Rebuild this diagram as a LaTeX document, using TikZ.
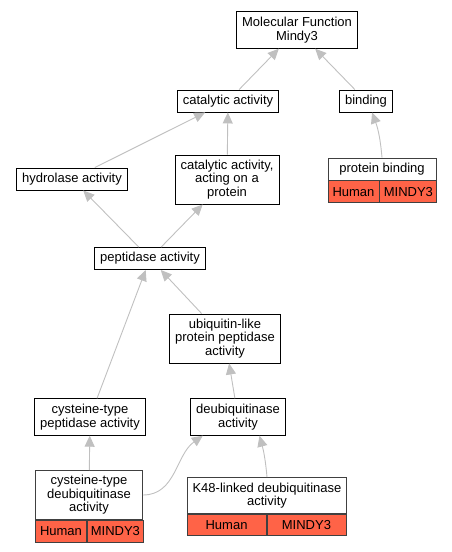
\documentclass[tikz,border=0pt]{standalone}
\usepackage{fontspec}
\setmainfont{Liberation Sans}
\usetikzlibrary{positioning, arrows.meta}

\definecolor{edgegrey}{RGB}{192,192,192}
\definecolor{hitred}{RGB}{255,99,71}

\begin{document}
\begin{tikzpicture}[x=1pt,y=-1pt,on grid,
   font=\fontsize{13}{13.4}\selectfont,
   term/.style={draw,line width=0.9pt,align=center,inner xsep=5.5pt,inner ysep=2pt,minimum height=22pt},
   head/.style={term,draw=black!75},
   cell/.style={draw=black!75,line width=0.9pt,fill=hitred,inner sep=0pt,minimum height=22pt,anchor=north west},
   isa/.style={color=edgegrey,line width=0.9pt,-{Triangle[length=11pt,width=10pt]}}]

   \useasboundingbox (0,0) rectangle (451,552);

   \node[term,minimum height=36.5pt] (mf) at (297,30) {Molecular Function\\Mindy3};
   \node[term] (cat) [below left=71pt and 69pt of mf] {catalytic activity};
   \node[term] (bind) [below right=71pt and 69pt of mf] {binding};
   \node[term] (hyd) [below left=78pt and 156pt of cat] {hydrolase activity};
   \node[term,minimum height=49pt] (catp) [below left=78.5pt and 1pt of cat] {catalytic activity,\\acting on a\\protein};
   \node[head,minimum width=108pt] (pbh) [below right=68pt and 16pt of bind] {protein binding};
   \node[cell,minimum width=51pt] (pbhuman) at (pbh.south west) {Human};
   \node[cell,minimum width=57pt] (pbgene) at (pbhuman.north east) {MINDY3};
   \node[term] (pep) [below left=79pt and 77pt of catp] {peptidase activity};
   \node[term,minimum height=49pt] (ubl) [below right=80pt and 75pt of pep] {ubiquitin-like\\protein peptidase\\activity};
   \node[term,minimum height=36.5pt] (cyspep) [below left=158.5pt and 60pt of pep] {cysteine-type\\peptidase activity};
   \node[term,minimum height=36.5pt] (deub) [below right=78.5pt and 13pt of ubl] {deubiquitinase\\activity};
   \node[head,minimum height=49pt,minimum width=107pt] (cdh) [below left=78pt and 1pt of cyspep] {cysteine-type\\deubiquitinase\\activity};
   \node[cell,minimum width=51pt] (cdhuman) at (cdh.south west) {Human};
   \node[cell,minimum width=56pt] (cdgene) at (cdhuman.north east) {MINDY3};
   \node[head,minimum height=36pt,minimum width=158pt] (k48h) [below right=78.5pt and 29pt of deub] {K48-linked deubiquitinase\\activity};
   \node[cell,minimum width=79pt,minimum height=21pt] (k48human) at (k48h.south west) {Human};
   \node[cell,minimum width=79pt,minimum height=21pt] (k48gene) at (k48human.north east) {MINDY3};

   \path[isa]
    (cat) edge (mf)
    (bind) edge (mf)
    (hyd) edge (cat)
    (catp) edge (cat)
    (pbh.north) edge[out=95,in=-70] (bind.-62)
    (pep) edge (hyd)
    (pep) edge (catp)
    (ubl) edge (pep)
    (cyspep) edge (pep)
    (deub) edge (ubl)
    (cdh) edge (cyspep)
    (cdh.east) edge[out=0,in=215] (deub.208)
    (k48h.north) edge[out=95,in=-75] (deub.-41);

\end{tikzpicture}
\end{document}
